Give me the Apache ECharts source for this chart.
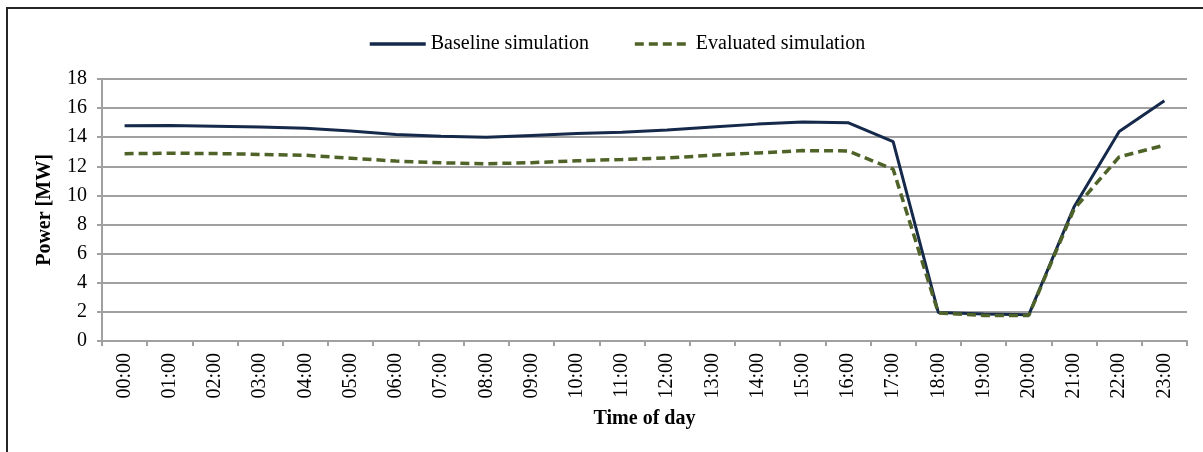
<!DOCTYPE html>
<html><head><meta charset="utf-8">
<script src="https://cdn.jsdelivr.net/npm/echarts@6/dist/echarts.min.js"></script>
<style>html,body{margin:0;padding:0;background:#fff}#c{width:1203px;height:452px}</style>
</head><body><div id="c"></div>
<script>
const categories = ["00:00","01:00","02:00","03:00","04:00","05:00","06:00","07:00","08:00","09:00","10:00","11:00","12:00","13:00","14:00","15:00","16:00","17:00","18:00","19:00","20:00","21:00","22:00","23:00"];
const baseline = [14.78,14.8,14.76,14.7,14.62,14.42,14.18,14.07,13.99,14.12,14.25,14.35,14.5,14.7,14.9,15.05,15.0,13.69,1.95,1.85,1.8,9.2,14.4,16.5];
const evaluated = [12.87,12.9,12.88,12.82,12.76,12.56,12.36,12.24,12.18,12.25,12.38,12.47,12.58,12.76,12.92,13.08,13.06,11.8,1.92,1.76,1.76,9.05,12.65,13.45];
const yTicks = {min:0, max:18, interval:2};

const chart = echarts.init(document.getElementById('c'));
const font = '"Liberation Serif","Times New Roman",serif';
chart.setOption({
  animation:false,
  textStyle:{fontFamily:font},
  graphic:[
    {type:'line',shape:{x1:6,y1:8,x2:1203,y2:8},style:{stroke:'#262626',lineWidth:2}},
    {type:'line',shape:{x1:7,y1:7,x2:7,y2:452},style:{stroke:'#262626',lineWidth:2}}
  ],
  legend:{
    left:363, top:29, itemWidth:56, itemHeight:14, itemGap:44,
    itemStyle:{opacity:0},
    lineStyle:{width:3.5},
    textStyle:{fontFamily:font,fontSize:20,color:'#000'},
    data:['Baseline simulation','Evaluated simulation']
  },
  grid:{left:102,right:16,top:79,bottom:111,containLabel:false},
  xAxis:{
    type:'category', data:categories, boundaryGap:true,
    name:'Time of day', nameLocation:'middle', nameGap:68,
    nameTextStyle:{fontFamily:font,fontSize:20,fontWeight:'bold',color:'#000'},
    axisLine:{lineStyle:{color:'#a0a0a0',width:2}},
    axisTick:{show:true,length:5,alignWithLabel:false,lineStyle:{color:'#a0a0a0',width:2}},
    axisLabel:{rotate:90,margin:12,fontFamily:font,fontSize:20,color:'#000',interval:0}
  },
  yAxis:{
    type:'value', min:yTicks.min, max:yTicks.max, interval:yTicks.interval,
    name:'Power [MW]', nameLocation:'middle', nameGap:47,
    nameTextStyle:{fontFamily:font,fontSize:20,fontWeight:'bold',color:'#000'},
    axisLine:{show:true,lineStyle:{color:'#a0a0a0',width:2}},
    axisTick:{show:true,length:5,lineStyle:{color:'#a0a0a0',width:2}},
    axisLabel:{margin:15,fontFamily:font,fontSize:20,color:'#000'},
    splitLine:{lineStyle:{color:'#a0a0a0',width:2}}
  },
  series:[
    {name:'Baseline simulation',type:'line',data:baseline,symbol:'none',
      lineStyle:{color:'#15294a',width:3},itemStyle:{color:'#15294a'}},
    {name:'Evaluated simulation',type:'line',data:evaluated,symbol:'none',
      lineStyle:{color:'#4f6228',width:3.5,type:[9,5]},itemStyle:{color:'#4f6228'}}
  ]
});
</script></body></html>
